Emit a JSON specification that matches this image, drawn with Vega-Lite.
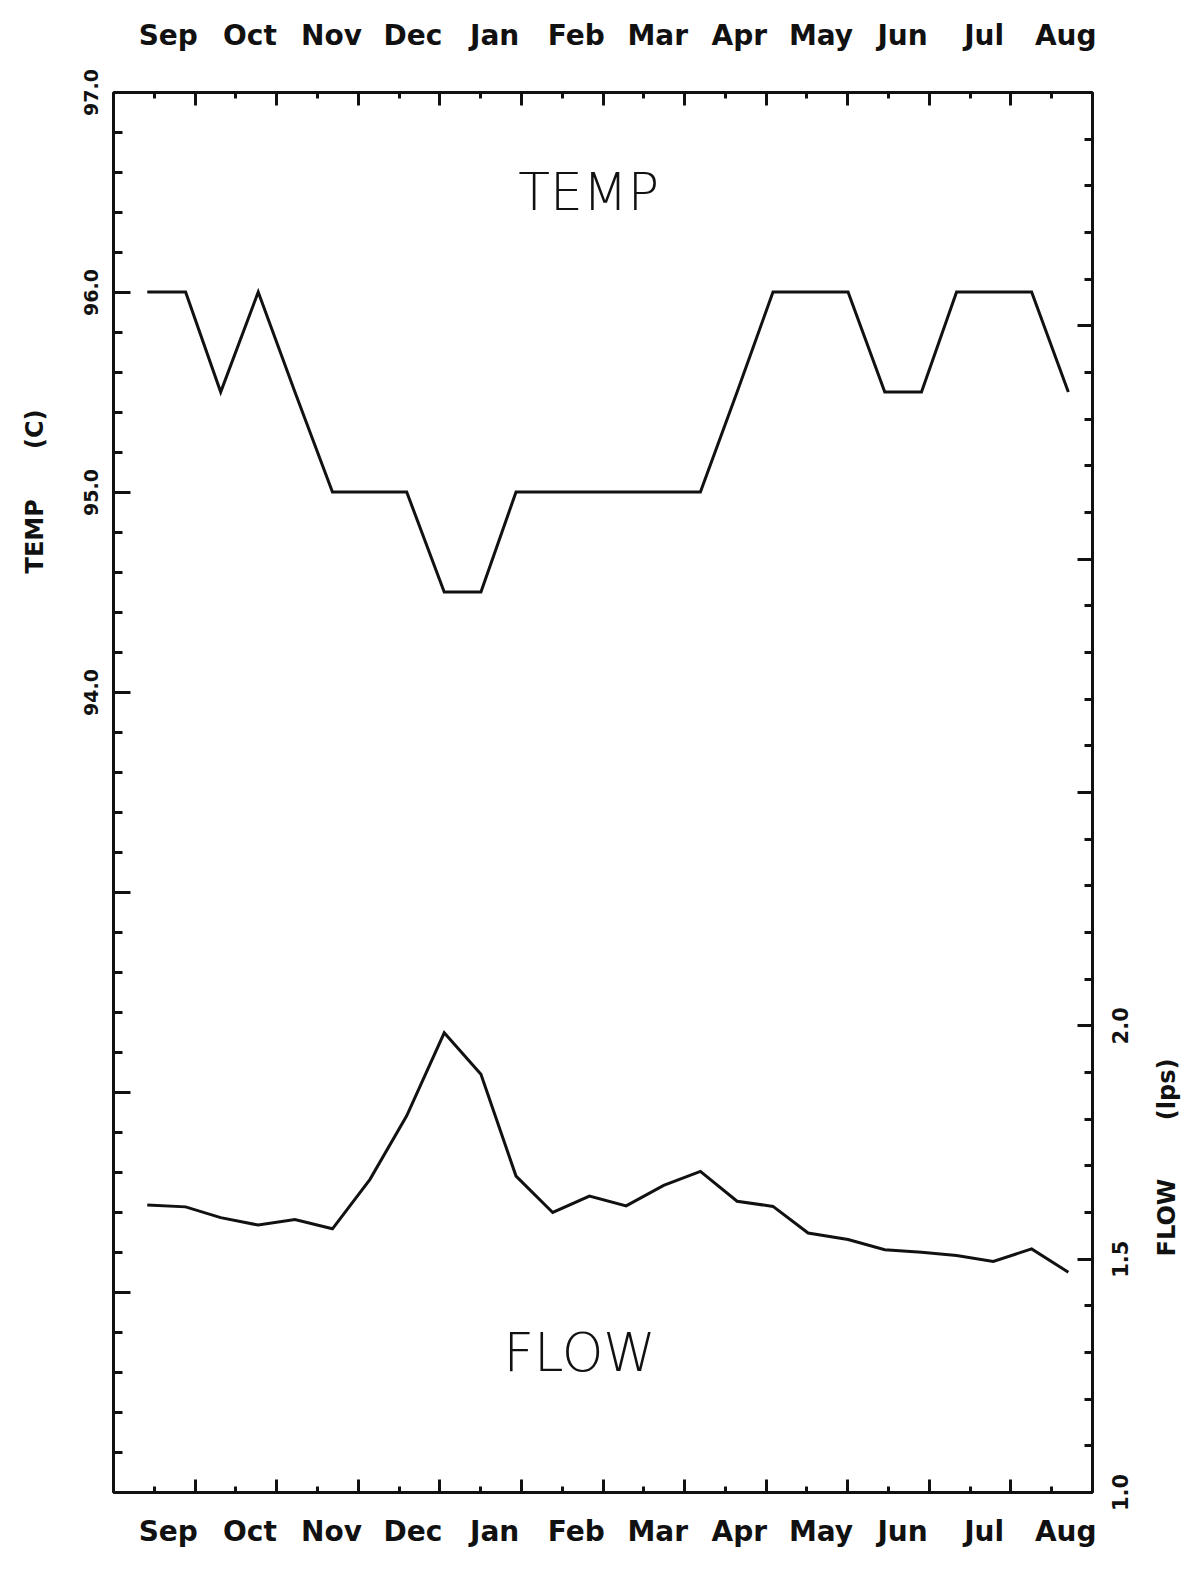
{
  "$schema": "https://vega.github.io/schema/vega-lite/v6.json",
  "width": 979,
  "height": 1400,
  "autosize": {"type": "none"},
  "padding": {"left": 113, "top": 92, "right": 93, "bottom": 82},
  "background": "white",
  "config": {
    "view": {"stroke": null},
    "axis": {
      "grid": false,
      "domainColor": "#111111",
      "domainWidth": 3,
      "tickColor": "#111111",
      "tickWidth": 3,
      "labelColor": "#111111",
      "titleColor": "#111111",
      "labelFont": "DejaVu Sans",
      "titleFont": "DejaVu Sans",
      "labelFontWeight": "bold",
      "titleFontWeight": "bold",
      "labelOverlap": false,
      "labelFlush": false
    }
  },
  "datasets": {
    "samples": [
      {"t": 0.42, "temp": 96.0, "flow": 1.615},
      {"t": 0.89, "temp": 96.0, "flow": 1.611},
      {"t": 1.32, "temp": 95.5, "flow": 1.588},
      {"t": 1.78, "temp": 96.0, "flow": 1.572},
      {"t": 2.23, "temp": 95.5, "flow": 1.584},
      {"t": 2.69, "temp": 95.0, "flow": 1.564},
      {"t": 3.15, "temp": 95.0, "flow": 1.670},
      {"t": 3.60, "temp": 95.0, "flow": 1.806},
      {"t": 4.06, "temp": 94.5, "flow": 1.984},
      {"t": 4.51, "temp": 94.5, "flow": 1.895},
      {"t": 4.94, "temp": 95.0, "flow": 1.677},
      {"t": 5.39, "temp": 95.0, "flow": 1.599},
      {"t": 5.84, "temp": 95.0, "flow": 1.634},
      {"t": 6.29, "temp": 95.0, "flow": 1.613},
      {"t": 6.75, "temp": 95.0, "flow": 1.657},
      {"t": 7.20, "temp": 95.0, "flow": 1.687},
      {"t": 7.65, "temp": 95.5, "flow": 1.623},
      {"t": 8.09, "temp": 96.0, "flow": 1.612},
      {"t": 8.52, "temp": 96.0, "flow": 1.555},
      {"t": 9.01, "temp": 96.0, "flow": 1.541},
      {"t": 9.46, "temp": 95.5, "flow": 1.519},
      {"t": 9.91, "temp": 95.5, "flow": 1.514},
      {"t": 10.34, "temp": 96.0, "flow": 1.507},
      {"t": 10.79, "temp": 96.0, "flow": 1.494},
      {"t": 11.26, "temp": 96.0, "flow": 1.521},
      {"t": 11.71, "temp": 95.5, "flow": 1.471}
    ]
  },
  "layer": [
    {
      "data": {"name": "samples"},
      "mark": {"type": "line", "color": "#111111", "strokeWidth": 3},
      "encoding": {
        "x": {
          "field": "t", "type": "quantitative",
          "scale": {"domain": [0, 12], "nice": false, "zero": false},
          "axis": {
            "orient": "bottom",
            "values": [0.5,1.5,2.5,3.5,4.5,5.5,6.5,7.5,8.5,9.5,10.5,11.5],
            "tickSize": -6,
            "labelExpr": "['Sep','Oct','Nov','Dec','Jan','Feb','Mar','Apr','May','Jun','Jul','Aug'][floor(datum.value)]",
            "labelFontSize": 28,
            "labelPadding": 32,
            "labelOffset": 14,
            "labelBaseline": "top",
            "labelAlign": "center",
            "labelAngle": 0,
            "title": null
          }
        },
        "y": {
          "field": "temp", "type": "quantitative",
          "scale": {"domain": [90, 97], "nice": false, "zero": false},
          "axis": {
            "orient": "left",
            "values": [90.2,90.4,90.6,90.8,91.2,91.4,91.6,91.8,92.2,92.4,92.6,92.8,93.2,93.4,93.6,93.8,94.2,94.4,94.6,94.8,95.2,95.4,95.6,95.8,96.2,96.4,96.6,96.8],
            "tickSize": -9,
            "labels": false,
            "title": "TEMP\u00a0\u00a0\u00a0\u00a0\u00a0\u00a0(C)",
            "titleAngle": 270,
            "titleX": -78,
            "titleY": 399,
            "titleAlign": "center",
            "titleBaseline": "middle",
            "titleFontSize": 24
          }
        }
      }
    },
    {
      "data": {"values": [{"label": "TEMP", "t": 5.83, "temp": 96.49}]},
      "mark": {"type": "text", "font": "DejaVu Sans", "fontSize": 52, "fontWeight": 200, "color": "#111111", "align": "center", "baseline": "middle"},
      "encoding": {
        "x": {
          "field": "t", "type": "quantitative",
          "scale": {"domain": [0, 12], "nice": false, "zero": false},
          "axis": {
            "orient": "bottom",
            "values": [0,1,2,3,4,5,6,7,8,9,10,11,12],
            "tickSize": -13,
            "labels": false,
            "title": null
          }
        },
        "y": {
          "field": "temp", "type": "quantitative",
          "scale": {"domain": [90, 97], "nice": false, "zero": false},
          "axis": {
            "orient": "left",
            "values": [90,91,92,93,94,95,96,97],
            "tickSize": -17,
            "labelExpr": "datum.value >= 94 ? format(datum.value, '.1f') : ''",
            "labelAngle": 270,
            "labelAlign": "center",
            "labelBaseline": "bottom",
            "labelPadding": 29,
            "labelFontSize": 19,
            "title": null
          }
        },
        "text": {"field": "label"}
      }
    },
    {
      "data": {"name": "samples"},
      "mark": {"type": "line", "color": "#111111", "strokeWidth": 3},
      "encoding": {
        "x": {
          "field": "t", "type": "quantitative",
          "scale": {"domain": [0, 12], "nice": false, "zero": false},
          "axis": {
            "orient": "top",
            "values": [0.5,1.5,2.5,3.5,4.5,5.5,6.5,7.5,8.5,9.5,10.5,11.5],
            "tickSize": -6,
            "labelExpr": "['Sep','Oct','Nov','Dec','Jan','Feb','Mar','Apr','May','Jun','Jul','Aug'][floor(datum.value)]",
            "labelFontSize": 28,
            "labelPadding": 54,
            "labelOffset": 14,
            "labelBaseline": "alphabetic",
            "labelAlign": "center",
            "labelAngle": 0,
            "title": null
          }
        },
        "y": {
          "field": "flow", "type": "quantitative",
          "scale": {"domain": [1, 4], "nice": false, "zero": false},
          "axis": {
            "orient": "right",
            "values": [1.1,1.2,1.3,1.4,1.6,1.7,1.8,1.9,2.1,2.2,2.3,2.4,2.6,2.7,2.8,2.9,3.1,3.2,3.3,3.4,3.6,3.7,3.8,3.9],
            "tickSize": -8,
            "labels": false,
            "title": "FLOW\u00a0\u00a0\u00a0\u00a0\u00a0\u00a0\u00a0(lps)",
            "titleAngle": 270,
            "titleX": 75,
            "titleY": 1065,
            "titleAlign": "center",
            "titleBaseline": "middle",
            "titleFontSize": 24
          }
        }
      }
    },
    {
      "data": {"values": [{"label": "FLOW", "t": 5.72, "flow": 1.294}]},
      "mark": {"type": "text", "font": "DejaVu Sans", "fontSize": 53, "fontWeight": 200, "color": "#111111", "align": "center", "baseline": "middle"},
      "encoding": {
        "x": {
          "field": "t", "type": "quantitative",
          "scale": {"domain": [0, 12], "nice": false, "zero": false},
          "axis": {
            "orient": "top",
            "values": [0,1,2,3,4,5,6,7,8,9,10,11,12],
            "tickSize": -13,
            "labels": false,
            "title": null
          }
        },
        "y": {
          "field": "flow", "type": "quantitative",
          "scale": {"domain": [1, 4], "nice": false, "zero": false},
          "axis": {
            "orient": "right",
            "values": [1,1.5,2,2.5,3,3.5,4],
            "tickSize": -15,
            "labelExpr": "datum.value <= 2 ? format(datum.value, '.1f') : ''",
            "labelAngle": 270,
            "labelAlign": "center",
            "labelBaseline": "top",
            "labelPadding": 33,
            "labelFontSize": 21,
            "title": null
          }
        },
        "text": {"field": "label"}
      }
    }
  ],
  "resolve": {
    "scale": {"y": "independent"},
    "axis": {"x": "independent", "y": "independent"}
  }
}
